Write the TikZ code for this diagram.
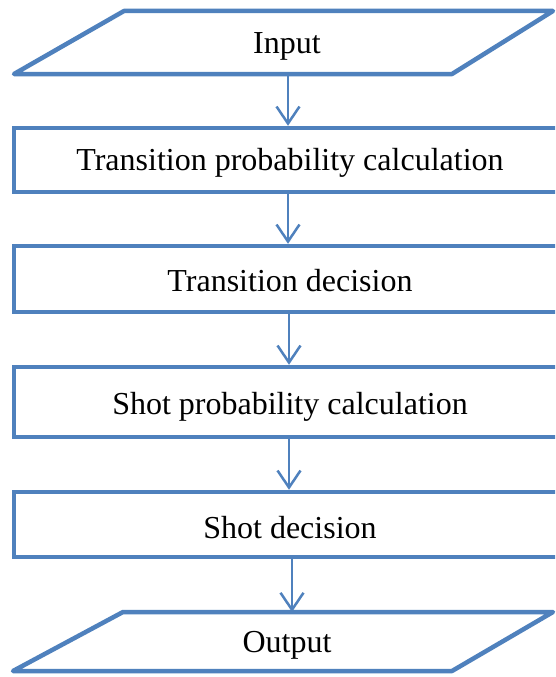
\documentclass[tikz,border=0pt]{standalone}
\usepackage{fontspec}
\setmainfont{Liberation Serif}
\usetikzlibrary{arrows.meta}
\definecolor{flowblue}{HTML}{4F81BD}
\tikzset{
  label text/.style={font=\fontsize{32}{36}\selectfont, inner sep=0pt,
    text height=25pt, text depth=5pt},
  lower text/.style={text height=25pt+#1, text depth=5pt-#1},
  stepbox/.style={label text, draw=flowblue, line width=4.5pt, rectangle,
    minimum width=552pt},
  ioframe/.style={draw=flowblue, line width=4.5pt, line join=round, line cap=round},
  flow/.style={draw=flowblue, line width=2.5pt,
    -{Straight Barb[length=17pt,width=23pt,line width=2.5pt]}}
}
\begin{document}
\begin{tikzpicture}[x=1pt,y=1pt]
  \clip (0,0) rectangle (555,-677);
  \fill[white] (0,0) rectangle (555,-677);
  % input parallelogram
  \coordinate (in-bl) at (14,-74);
  \coordinate (in-br) at (452,-74);
  \coordinate (in-tr) at (553,-11);
  \coordinate (in-tl) at (124,-11);
  \draw[ioframe] (in-bl) -- (in-br) -- (in-tr) -- (in-tl) -- cycle;
  \node[label text] (in) at (287,-43) {Input};
  \coordinate (in-s) at (288,-74);
  % output parallelogram
  \coordinate (out-bl) at (13,-671);
  \coordinate (out-br) at (452,-671);
  \coordinate (out-tr) at (553,-612);
  \coordinate (out-tl) at (123,-612);
  \draw[ioframe] (out-bl) -- (out-br) -- (out-tr) -- (out-tl) -- cycle;
  \node[label text] (out) at (287,-642) {Output};
  \coordinate (out-n) at (292,-612);
  % processing steps
  \node[stepbox, minimum height=64pt] (b1) at (290,-160) {Transition probability calculation};
  \node[stepbox, lower text=2pt, minimum height=66pt] (b2) at (290,-279) {Transition decision};
  \node[stepbox, lower text=2pt, minimum height=70pt] (b3) at (290,-402) {Shot probability calculation};
  \node[stepbox, lower text=4pt, minimum height=65pt] (b4) at (290,-524.5) {Shot decision};
  % connectors
  \draw[flow] (in-s) -- (in-s |- b1.north);
  \draw[flow] ([xshift=-2pt]b1.south) -- ([xshift=-2pt]b2.north);
  \draw[flow] ([xshift=-1pt]b2.south) -- ([xshift=-1pt]b3.north);
  \draw[flow] ([xshift=-1pt]b3.south) -- ([xshift=-1pt]b4.north);
  \draw[flow] (out-n |- b4.south) -- (out-n);
\end{tikzpicture}
\end{document}
